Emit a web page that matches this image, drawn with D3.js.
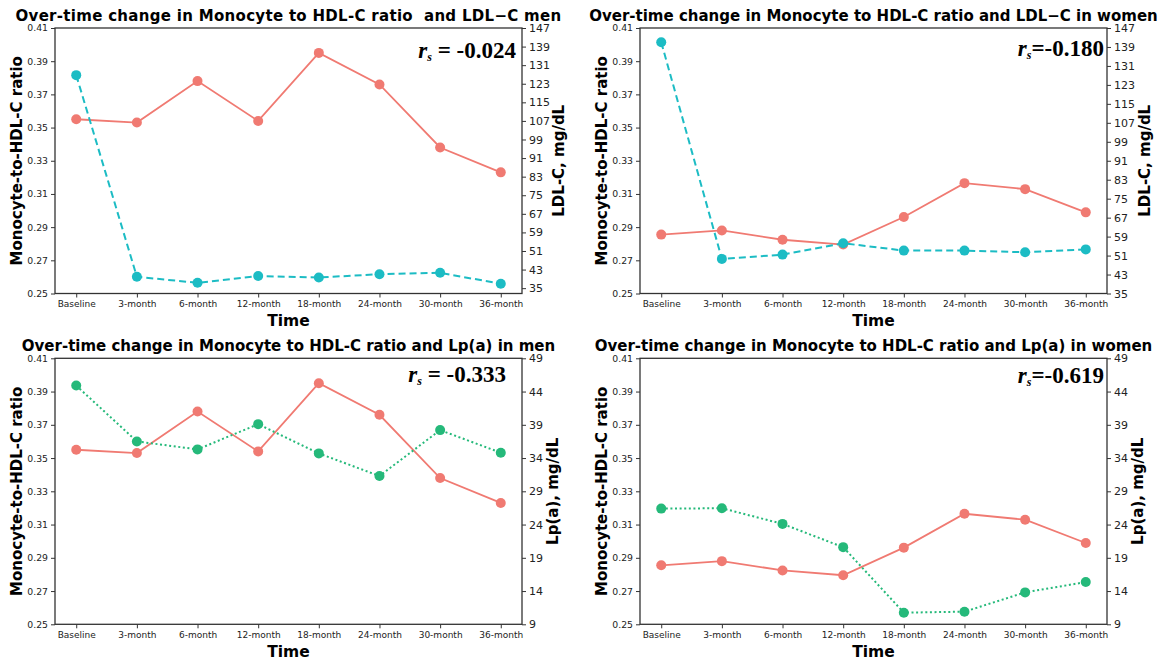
<!DOCTYPE html>
<html>
<head>
<meta charset="utf-8">
<script src="https://cdn.jsdelivr.net/npm/d3@7"></script>
<style>
body { margin: 0; background: #fff; }
text { font-family: "DejaVu Sans", sans-serif; }
</style>
</head>
<body>
<div id="chart"></div>
<script>
const WIDTH = 1161;
const HEIGHT = 659;

// datos
const timepoints = ["Baseline", "3-month", "6-month", "12-month", "18-month", "24-month", "30-month", "36-month"];
const mhrMen = [0.355, 0.353, 0.378, 0.354, 0.395, 0.376, 0.338, 0.323];
const mhrWomen = [0.2855, 0.288, 0.2824, 0.2795, 0.2961, 0.3165, 0.3129, 0.2989];
const ldlMen = [126.7, 39.9, 37.3, 40.2, 39.6, 41.0, 41.6, 36.9];
const ldlWomen = [141.0, 49.6, 51.4, 56.2, 53.1, 53.1, 52.4, 53.6];
const lpaMen = [44.9, 36.5, 35.3, 39.1, 34.7, 31.3, 38.2, 34.8];
const lpaWomen = [26.4, 26.45, 24.1, 20.6, 10.75, 10.9, 13.8, 15.35];

const mhrTicks = [0.25, 0.27, 0.29, 0.31, 0.33, 0.35, 0.37, 0.39, 0.41];
const ldlTicks = [35, 43, 51, 59, 67, 75, 83, 91, 99, 107, 115, 123, 131, 139, 147];
const lpaTicks = [9, 14, 19, 24, 29, 34, 39, 44, 49];

const titles = [
    "Over-time change in Monocyte to HDL-C ratio  and LDL\u2212C men",
    "Over-time change in Monocyte to HDL-C ratio and LDL\u2212C in women",
    "Over-time change in Monocyte to HDL-C ratio and Lp(a) in men",
    "Over-time change in Monocyte to HDL-C ratio and Lp(a) in women"
];
const rsTexts = [" = -0.024", "=-0.180", " = -0.333", "=-0.619"];
const rightLabels = ["LDL-C, mg/dL", "LDL-C, mg/dL", "Lp(a), mg/dL", "Lp(a), mg/dL"];

const RED = "#f07a72";
const CYAN = "#1cbcc4";
const GREEN = "#25b97a";

const panels = [
    { left: 55, top: 28, bottom: 293.5, mhr: mhrMen, sec: ldlMen, secTicks: ldlTicks, secDomain: [32.7, 147],
      color: CYAN, dash: "7,4", rsEnd: 516, rsBase: 58, rlOff: 37, titleSpacing: 0.3 },
    { left: 640, top: 28, bottom: 293.5, mhr: mhrWomen, sec: ldlWomen, secTicks: ldlTicks, secDomain: [35, 147],
      color: CYAN, dash: "7,4", rsEnd: 1104, rsBase: 56, rlOff: 38, titleSpacing: 0 },
    { left: 55, top: 358.3, bottom: 624.3, mhr: mhrMen, sec: lpaMen, secTicks: lpaTicks, secDomain: [9, 49],
      color: GREEN, dash: "2,2.6", rsEnd: 506, rsBase: 382, rlOff: 31, titleSpacing: 0 },
    { left: 640, top: 358.3, bottom: 624.3, mhr: mhrWomen, sec: lpaWomen, secTicks: lpaTicks, secDomain: [9, 49],
      color: GREEN, dash: "2,2.6", rsEnd: 1104, rsBase: 383, rlOff: 31, titleSpacing: 0 }
];
const PW = 467;

const svg = d3.select("#chart")
    .append("svg")
    .attr("width", WIDTH)
    .attr("height", HEIGHT);

panels.forEach(function(p, i) {
    const right = p.left + PW;
    const g = svg.append("g");

    const x = d3.scalePoint().domain(timepoints).range([p.left, right]).padding(0.35);
    const yL = d3.scaleLinear().domain([0.25, 0.41]).range([p.bottom, p.top]);
    const yR = d3.scaleLinear().domain(p.secDomain).range([p.bottom, p.top]);

    // ejes
    const ax = g.append("g").attr("transform", `translate(0,${p.bottom})`)
        .call(d3.axisBottom(x).tickSize(4).tickSizeOuter(0).tickPadding(3));
    ax.selectAll("text").attr("font-size", 9).attr("fill", "#222");

    const ayl = g.append("g").attr("transform", `translate(${p.left},0)`)
        .call(d3.axisLeft(yL).tickValues(mhrTicks).tickFormat(d3.format(".2f")).tickSize(4).tickSizeOuter(0).tickPadding(3));
    ayl.selectAll("text").attr("font-size", 9.3).attr("fill", "#222");

    const ayr = g.append("g").attr("transform", `translate(${right},0)`)
        .call(d3.axisRight(yR).tickValues(p.secTicks).tickSize(4).tickSizeOuter(0).tickPadding(3));
    ayr.selectAll("text").attr("font-size", 11).attr("fill", "#222");

    [ax, ayl, ayr].forEach(function(a) {
        a.selectAll(".domain").remove();
        a.selectAll("line").attr("stroke", "#333").attr("stroke-width", 1);
    });

    g.append("rect")
        .attr("x", p.left).attr("y", p.top)
        .attr("width", PW).attr("height", p.bottom - p.top)
        .attr("fill", "none").attr("stroke", "#333").attr("stroke-width", 1.3);

    // linea MHR
    const lineL = d3.line().x((d, j) => x(timepoints[j])).y(d => yL(d));
    g.append("path").datum(p.mhr)
        .attr("d", lineL).attr("fill", "none").attr("stroke", RED).attr("stroke-width", 1.8);
    g.selectAll(".pl").data(p.mhr).enter().append("circle")
        .attr("cx", (d, j) => x(timepoints[j])).attr("cy", d => yL(d))
        .attr("r", 5).attr("fill", RED);

    // linea secundaria
    const lineR = d3.line().x((d, j) => x(timepoints[j])).y(d => yR(d));
    g.append("path").datum(p.sec)
        .attr("d", lineR).attr("fill", "none").attr("stroke", p.color)
        .attr("stroke-width", 2).attr("stroke-dasharray", p.dash);
    g.selectAll(".pr").data(p.sec).enter().append("circle")
        .attr("cx", (d, j) => x(timepoints[j])).attr("cy", d => yR(d))
        .attr("r", 5).attr("fill", p.color);

    // textos
    const cx = (p.left + right) / 2;
    g.append("text")
        .attr("x", cx).attr("y", p.top - 7)
        .attr("text-anchor", "middle")
        .attr("font-size", 15).attr("font-weight", "bold")
        .style("white-space", "pre")
        .style("letter-spacing", p.titleSpacing + "px")
        .text(titles[i]);

    g.append("text")
        .attr("x", cx).attr("y", p.bottom + 32.5)
        .attr("text-anchor", "middle")
        .attr("font-size", 15.5).attr("font-weight", "bold")
        .text("Time");

    const cy = (p.top + p.bottom) / 2;
    g.append("text")
        .attr("transform", `translate(${p.left - 38},${cy}) rotate(-90)`)
        .attr("dy", "0.35em")
        .attr("text-anchor", "middle")
        .attr("font-size", 15).attr("font-weight", "bold")
        .text("Monocyte-to-HDL-C ratio");

    g.append("text")
        .attr("transform", `translate(${right + p.rlOff},${cy}) rotate(-90)`)
        .attr("dy", "0.35em")
        .attr("text-anchor", "middle")
        .attr("font-size", 15).attr("font-weight", "bold")
        .text(rightLabels[i]);

    const rs = g.append("text")
        .attr("x", p.rsEnd).attr("y", p.rsBase)
        .attr("text-anchor", "end")
        .style("font-family", "'Liberation Serif', 'Times New Roman', serif")
        .attr("font-weight", "bold")
        .attr("font-size", 23)
        .style("white-space", "pre");
    rs.append("tspan").attr("font-style", "italic").text("r");
    rs.append("tspan").attr("font-style", "italic").attr("font-size", 12).attr("dy", 3).text("s");
    rs.append("tspan").attr("dy", -3).text(rsTexts[i]);
});
</script>
</body>
</html>
